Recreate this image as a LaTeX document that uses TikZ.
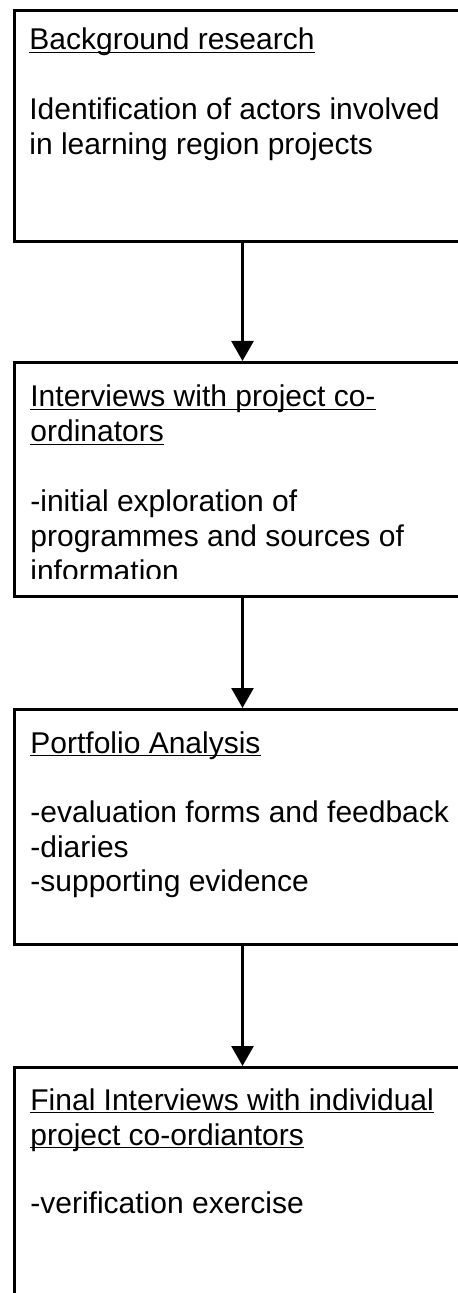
\documentclass[tikz,border=0pt]{standalone}
\usepackage{fontspec}
\setmainfont{Liberation Sans}
\usetikzlibrary{arrows.meta}
\begin{document}
\begin{tikzpicture}[x=0.5pt,y=-0.5pt,
  stage/.style={draw, line width=1.5pt, rectangle, minimum width=228pt,
    anchor=north west, inner sep=0pt},
  ln/.style={anchor=base west, inner sep=0pt, font=\fontsize{15}{17.5}\selectfont},
  uline/.style={line width=0.8pt},
  flow/.style={line width=1.3pt, -{Triangle[width=11pt,length=10pt]}}]
\useasboundingbox (0,0) rectangle (458,1293);
\clip (0,0) rectangle (458,1293);

% stage frames (they run past the right and bottom edges)
\node[stage, minimum height=115.5pt] (b1) at (13,9) {};
\node[stage, minimum height=117pt]   (b2) at (13,361) {};
\node[stage, minimum height=117.5pt] (b3) at (13,708) {};
\node[stage, minimum height=130pt]   (b4) at (13,1066) {};

% flow between stages
\draw[flow] (b1.south) -- (b2.north);
\draw[flow] (b2.south) -- (b3.north);
\draw[flow] (b3.south) -- (b4.north);

% stage 1
\node[ln] (h1) at (29,50) {Background research};
\draw[uline] ([yshift=-1.3pt]h1.base west) -- ([yshift=-1.3pt]h1.base east);
\node[ln] (t1a) at (29,120) {Identification of actors involved};
\node[ln] (t1b) at (29,155) {in learning region projects};

% stage 2
\node[ln] (h2a) at (30,407) {Interviews with project co-};
\node[ln] (h2b) at (30,442) {ordinators};
\draw[uline] ([yshift=-1.3pt]h2a.base west) -- ([yshift=-1.3pt]h2a.base east);
\draw[uline] ([yshift=-1.3pt]h2b.base west) -- ([yshift=-1.3pt]h2b.base east);
\node[ln] (t2a) at (30,511) {-initial exploration of};
\node[ln] (t2b) at (30,546) {programmes and sources of};
\begin{scope}
  \clip (13,361) rectangle (469,578);
  \node[ln] (t2c) at (30,581) {information};
\end{scope}

% stage 3
\node[ln] (h3) at (30,753) {Portfolio Analysis};
\draw[uline] ([yshift=-1.3pt]h3.base west) -- ([yshift=-1.3pt]h3.base east);
\node[ln] (t3a) at (30,822) {-evaluation forms and feedback};
\node[ln] (t3b) at (30,857) {-diaries};
\node[ln] (t3c) at (30,891) {-supporting evidence};

% stage 4
\node[ln] (h4a) at (30,1110) {Final Interviews with individual};
\node[ln] (h4b) at (30,1145) {project co-ordiantors};
\draw[uline] ([yshift=-1.3pt]h4a.base west) -- ([yshift=-1.3pt]h4a.base east);
\draw[uline] ([yshift=-1.3pt]h4b.base west) -- ([yshift=-1.3pt]h4b.base east);
\node[ln] (t4a) at (30,1213) {-verification exercise};
\end{tikzpicture}
\end{document}
